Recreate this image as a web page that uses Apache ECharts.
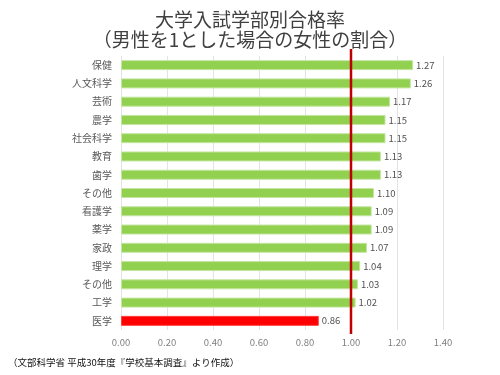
<!DOCTYPE html>
<html><head><meta charset="utf-8">
<script src="https://cdn.jsdelivr.net/npm/echarts@6/dist/echarts.min.js"></script>
<style>html,body{margin:0;padding:0;background:#fff}#c{width:500px;height:375px}</style>
</head><body><div id="c"></div>
<script>
const categories = ['保健','人文科学','芸術','農学','社会科学','教育','歯学','その他','看護学','薬学','家政','理学','その他','工学','医学'];
const values = [1.27,1.26,1.17,1.15,1.15,1.13,1.13,1.10,1.09,1.09,1.07,1.04,1.03,1.02,0.86];
const highlight = ['医学'];
const xTicks = [0,0.2,0.4,0.6,0.8,1.0,1.2,1.4];
const refValue = 1.0;

const chart = echarts.init(document.getElementById('c'), null, {renderer:'canvas'});
const font = '"Noto Sans CJK JP", sans-serif';
chart.setOption({
  animation:false,
  textStyle:{fontFamily:font},
  title:{
    text:'大学入試学部別合格率\n（男性を1とした場合の女性の割合）',
    left:'center', top:5,
    textStyle:{fontSize:19, lineHeight:20, fontWeight:'normal', color:'#404040', fontFamily:font}
  },
  graphic:[{
    id:'note', type:'text', left:8, top:358,
    style:{text:'（文部科学省 平成30年度『学校基本調査』より作成）', fontSize:9.5, fill:'#111', fontFamily:font, fontWeight:'normal'}
  }],
  grid:{left:121, right:57, top:56, bottom:45, containLabel:false},
  xAxis:{
    type:'value', min:xTicks[0], max:xTicks[xTicks.length-1], interval:0.2,
    axisLine:{show:false}, axisTick:{show:false},
    splitLine:{lineStyle:{color:'#e3e3e3'}},
    axisLabel:{formatter:v=>v.toFixed(2), color:'#7f7f7f', fontSize:9.5, margin:8, fontFamily:font}
  },
  yAxis:{
    type:'category', data:categories, inverse:true,
    axisLine:{show:false}, axisTick:{show:false},
    axisLabel:{color:'#595959', fontSize:10, margin:9, fontFamily:font}
  },
  series:[{
    type:'bar', barWidth:10,
    data:values.map((v,i)=>({value:v, itemStyle:{color: highlight.includes(categories[i])?'#ff0000':'#92d050', borderColor: highlight.includes(categories[i])?'#ff4040':'#c4e6a0', borderWidth:1}})),
    label:{show:true, position:'right', distance:3, formatter:p=>p.value.toFixed(2), color:'#505050', fontSize:9.5, fontFamily:font}
  }]
});
const rx = Math.round(chart.convertToPixel({xAxisIndex:0}, refValue));
chart.setOption({
  graphic:[{
    id:'refline', type:'line', z:100,
    shape:{x1:rx, y1:49, x2:rx, y2:334},
    style:{stroke:'#c00000', lineWidth:2.5}
  }]
});
</script></body></html>
